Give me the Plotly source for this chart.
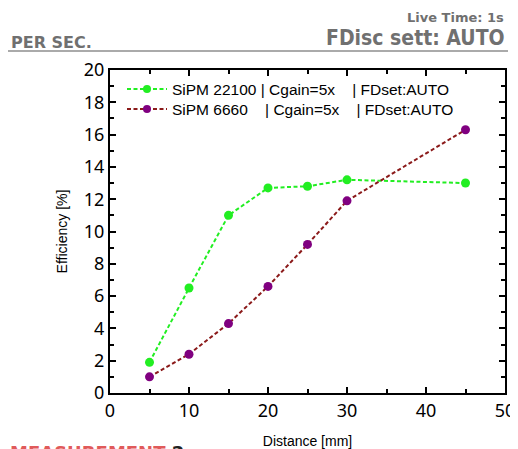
import plotly.graph_objects as go

distance = [5, 10, 15, 20, 25, 30, 45]
sipm_22100 = [1.9, 6.5, 11.0, 12.7, 12.8, 13.2, 13.0]
sipm_6660 = [1.0, 2.4, 4.3, 6.6, 9.2, 11.9, 16.3]

name_a = "SiPM 22100 | Cgain=5x    | FDset:AUTO"
name_b = "SiPM 6660    | Cgain=5x    | FDset:AUTO"

# page offset (browser body margin) compensation
OFF = 8
W, H = 518 - OFF, 449 - OFF
# plot area in page pixels: left 110, right 505, top 70, bottom 393
L, R, T, B = 110 - OFF, W - (505 - OFF), 70 - OFF, H - (393 - OFF)
pw, ph = W - L - R, H - T - B


def px(x):  # page pixel -> paper
    return (x - OFF - L) / pw


def py(y):
    return (H - B - (y - OFF)) / ph


green = "#22ee22"
purple = "#800080"
darkred = "#8b1a1a"
dash = "4px,2.5px"

fig = go.Figure()
fig.add_trace(go.Scatter(x=distance, y=sipm_22100, mode="lines+markers", name=name_a, showlegend=False,
                         line=dict(color=green, dash=dash, width=2),
                         marker=dict(color=green, size=9)))
fig.add_trace(go.Scatter(x=distance, y=sipm_6660, mode="lines+markers", name=name_b, showlegend=False,
                         line=dict(color=darkred, dash=dash, width=2),
                         marker=dict(color=purple, size=9)))
# legend entries (smaller symbols, as in the reference)
fig.add_trace(go.Scatter(x=[None], y=[None], mode="lines+markers", name=name_a, legend="legend",
                         line=dict(color=green, dash=dash, width=2),
                         marker=dict(color=green, size=8)))
fig.add_trace(go.Scatter(x=[None], y=[None], mode="lines+markers", name=name_b, legend="legend2",
                         line=dict(color=darkred, dash=dash, width=2),
                         marker=dict(color=purple, size=8)))

axis_common = dict(showline=True, linecolor="black", linewidth=2, mirror="ticks",
                   ticks="inside", ticklen=6, tickwidth=2, tickcolor="black",
                   showgrid=False, zeroline=False, automargin=False,
                   tickfont=dict(family="Noto Sans", size=18, color="black"))

fig.update_xaxes(range=[0, 50], dtick=10,
                 minor=dict(ticks="inside", ticklen=4, tickwidth=2, tickcolor="black", dtick=5),
                 title=dict(text="Distance [mm]", font=dict(family="Liberation Sans", size=14, color="black"), standoff=19),
                 **axis_common)
fig.update_yaxes(range=[0, 20], dtick=2,
                 minor=dict(ticks="inside", ticklen=4, tickwidth=2, tickcolor="black", dtick=1),
                 title=dict(text="Efficiency [%]", font=dict(family="Liberation Sans", size=14, color="black"), standoff=13),
                 **axis_common)

gray = "#707070"
annotations = [
    dict(text="<b>Live Time: 1s</b>", x=px(506), y=py(17), xanchor="right", yanchor="middle",
         font=dict(family="DejaVu Sans", size=13, color=gray)),
    dict(text="<b>FDisc sett: AUTO</b>", x=px(507), y=py(38), xanchor="right", yanchor="middle",
         font=dict(family="DejaVu Sans Condensed", size=21, color=gray)),
    dict(text="<b>PER SEC.</b>", x=px(9), y=py(42), xanchor="left", yanchor="middle",
         font=dict(family="DejaVu Sans", size=16, color=gray)),
    dict(text="<b><span style='color:#e05a5a'>MEASUREMENT</span> 2</b>", x=px(8), y=py(440),
         xanchor="left", yanchor="top",
         font=dict(family="DejaVu Sans", size=18, color="#222222")),
]
for a in annotations:
    a.update(xref="paper", yref="paper", showarrow=False)

leg_common = dict(xanchor="left", yanchor="top", bgcolor="rgba(0,0,0,0)",
                  font=dict(family="Liberation Sans", size=15.5, color="black"),
                  itemwidth=40, xref="paper", yref="paper")

fig.update_layout(
    width=W, height=H,
    margin=dict(l=L, r=R, t=T, b=B, pad=0, autoexpand=False),
    paper_bgcolor="white", plot_bgcolor="white",
    showlegend=True,
    legend=dict(x=px(122), y=py(72.5), **leg_common),
    legend2=dict(x=px(122), y=py(92.5), **leg_common),
    annotations=annotations,
    shapes=[dict(type="line", xref="paper", yref="paper", x0=px(5), x1=px(508), y0=py(51), y1=py(51),
                 line=dict(color="#aaaaaa", width=2))],
)

fig.write_html("out.html")
